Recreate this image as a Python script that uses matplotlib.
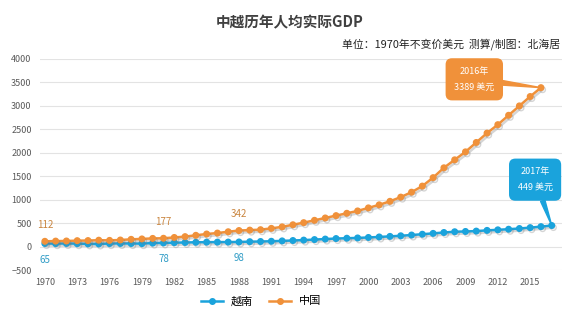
import matplotlib.pyplot as plt
import matplotlib.patheffects as pe
from matplotlib.lines import Line2D

plt.rcParams['font.family'] = ['Noto Sans CJK SC', 'DejaVu Sans']

vn_years = list(range(1970, 2018))
vn_gdp = [65, 63, 66, 62, 58, 56, 64, 66, 65, 63, 74, 78, 83, 87, 91, 94, 95, 96,
          98, 104, 108, 113, 121, 129, 138, 149, 160, 171, 178, 184, 194, 205,
          217, 230, 246, 263, 281, 300, 316, 322, 330, 345, 357, 370, 385, 404,
          425, 449]

cn_years = list(range(1970, 2017))
cn_gdp = [112, 117, 119, 126, 128, 136, 132, 140, 154, 163, 174, 177, 194, 212,
          240, 268, 288, 316, 342, 351, 360, 388, 420, 465, 510, 560, 610, 660,
          710, 760, 825, 890, 965, 1055, 1160, 1290, 1470, 1680, 1850, 2020,
          2220, 2420, 2600, 2800, 3000, 3200, 3389]

label_years = [1970, 1981, 1988]
xtick_years = list(range(1970, 2016, 3))

blue = '#1aa3dc'
orange = '#f0913a'

fig = plt.figure(figsize=(5.8, 3.24), dpi=100)
ax = fig.add_axes([40 / 580, 54 / 324, 522 / 580, 211 / 324])

shadow = [pe.SimpleLineShadow(offset=(1.2, -1.5), shadow_color='#777777', alpha=0.3),
          pe.Normal()]
ax.plot(vn_years, vn_gdp, color=blue, lw=1.8, marker='o', ms=4, mec=blue,
        path_effects=shadow, zorder=3)
ax.plot(cn_years, cn_gdp, color=orange, lw=1.8, marker='o', ms=4, mec=orange,
        path_effects=shadow, zorder=3)

for y in label_years:
    i = y - 1970
    ax.annotate(str(cn_gdp[i]), (y, cn_gdp[i]), xytext=(0, 8), textcoords='offset points',
                ha='center', va='bottom', fontsize=7, color='#c9853f', style='italic')
    ax.annotate(str(vn_gdp[i]), (y, vn_gdp[i]), xytext=(0, -8), textcoords='offset points',
                ha='center', va='top', fontsize=7, color='#2f9cc6', style='italic')

# callouts
ax.annotate('%d年\n%d 美元' % (cn_years[-1], cn_gdp[-1]), (cn_years[-1], cn_gdp[-1]),
            xytext=(-48, 6), textcoords='offset points', ha='center', va='center',
            fontsize=6.5, color='white', linespacing=2.0,
            bbox=dict(boxstyle='round,pad=0.95,rounding_size=0.7', fc=orange, ec='none'),
            arrowprops=dict(arrowstyle='wedge,tail_width=0.5', fc=orange, ec=orange,
                            shrinkA=0, shrinkB=0), zorder=5)
ax.annotate('%d年\n%d 美元' % (vn_years[-1], vn_gdp[-1]), (vn_years[-1], vn_gdp[-1]),
            xytext=(-12, 33), textcoords='offset points', ha='center', va='center',
            fontsize=6.5, color='white', linespacing=2.0,
            bbox=dict(boxstyle='round,pad=0.95,rounding_size=0.7', fc=blue, ec='none'),
            arrowprops=dict(arrowstyle='wedge,tail_width=0.5', fc=blue, ec=blue,
                            shrinkA=0, shrinkB=0), zorder=5)

ax.set_xlim(1969.55, 2017.95)
ax.set_ylim(-500, 4000)
ax.set_yticks(range(-500, 4001, 500))
ax.set_xticks(xtick_years)
ax.tick_params(length=0, labelsize=6.5, labelcolor='#595959', pad=6)
ax.grid(axis='y', color='#e3e3e3', lw=0.8)
ax.set_axisbelow(True)
for s in ax.spines.values():
    s.set_visible(False)

fig.text(0.5, 0.93, '中越历年人均实际GDP', ha='center', va='center',
         fontsize=10.5, fontweight='bold', color='#404040')
fig.text(0.965, 0.865, '单位：1970年不变价美元  测算/制图：北海居', ha='right', va='center',
         fontsize=7.8, style='italic', color='#222222')

handles = [Line2D([], [], color=blue, lw=1.8, marker='o', ms=4),
           Line2D([], [], color=orange, lw=1.8, marker='o', ms=4)]
fig.legend(handles, ['越南', '中国'], loc='center', bbox_to_anchor=(0.45, 0.07), ncol=2,
           frameon=False, fontsize=8, handlelength=2.0, columnspacing=1.4,
           handletextpad=0.7)

fig.savefig('out.png', dpi=100)
